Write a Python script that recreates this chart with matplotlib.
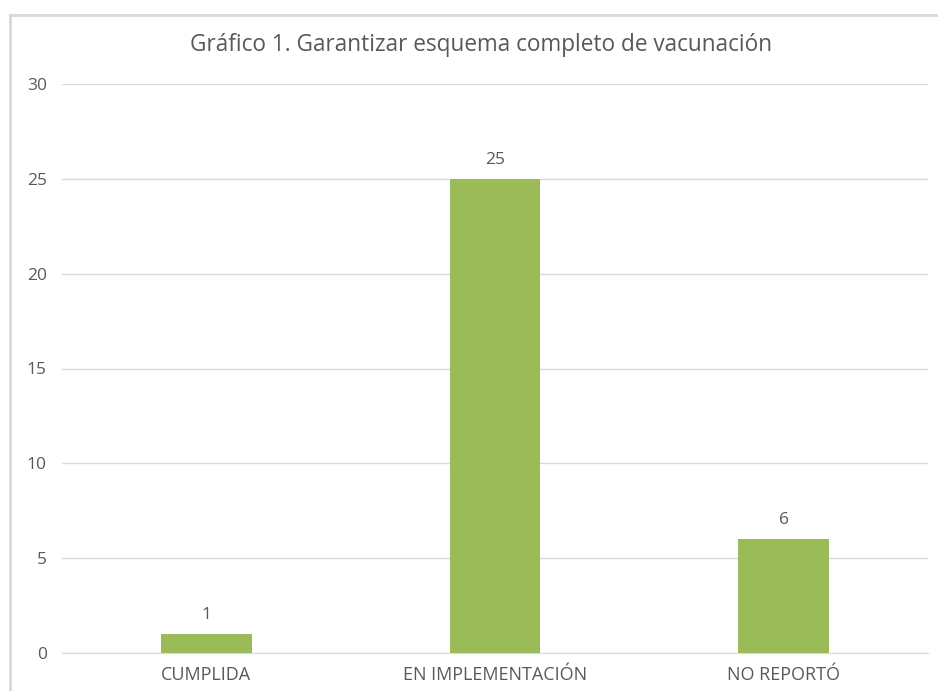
import matplotlib
matplotlib.use("Agg")
import matplotlib.pyplot as plt
from matplotlib.lines import Line2D

categories = ["CUMPLIDA", "EN IMPLEMENTACIÓN", "NO REPORTÓ"]
values = [1, 25, 6]
y_ticks = [0, 5, 10, 15, 20, 25, 30]
title = "Gráfico 1. Garantizar esquema completo de vacunación"

plt.rcParams['font.family'] = ['Open Sans', 'DejaVu Sans']
text_color = "#595959"
bar_color = "#9BBB59"
grid_color = "#D9D9D9"

W, H = 938, 691
fig = plt.figure(figsize=(W / 100, H / 100), dpi=100)
fig.patch.set_facecolor("white")

ax = fig.add_axes([62 / W, 1 - 653 / H, (928 - 62) / W, (653 - 84) / H])
x = list(range(len(categories)))
bars = ax.bar(x, values, width=0.315, color=bar_color, zorder=3)
ax.set_xlim(-0.5, len(categories) - 0.5)
ax.set_ylim(0, 30)
ax.set_yticks(y_ticks)
ax.set_xticks(x)
ax.set_xticklabels(categories, fontsize=13, color=text_color)
ax.tick_params(axis='y', labelsize=12.5, colors=text_color, length=0, pad=11)
ax.tick_params(axis='x', length=0, pad=9)
ax.yaxis.grid(True, color=grid_color, linewidth=1, zorder=0)
for s in ["top", "right", "left"]:
    ax.spines[s].set_visible(False)
ax.spines["bottom"].set_color(grid_color)
ax.set_axisbelow(True)

for b, v in zip(bars, values):
    ax.annotate(str(v), (b.get_x() + b.get_width() / 2, v), xytext=(0, 8),
                textcoords="offset points", ha="center", va="bottom",
                fontsize=12.5, color=text_color)

fig.text(481 / W, 1 - 45 / H, title, ha="center", va="center",
         fontsize=16.3, color=text_color)

fig.add_artist(Line2D([10 / W, 10 / W], [0, 1 - 15 / H], transform=fig.transFigure,
                      color=grid_color, linewidth=2))
fig.add_artist(Line2D([10 / W, 1.02], [1 - 15 / H, 1 - 15 / H], transform=fig.transFigure,
                      color=grid_color, linewidth=2))

fig.savefig("out.png", dpi=100)
